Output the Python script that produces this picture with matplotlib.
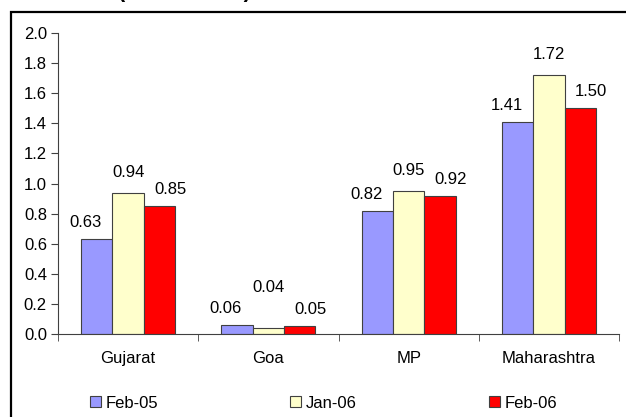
import numpy as np
import matplotlib
matplotlib.use("Agg")
import matplotlib.pyplot as plt
from matplotlib.patches import Rectangle

plt.rcParams['font.family'] = ['Liberation Sans', 'DejaVu Sans']

states = ["Gujarat", "Goa", "MP", "Maharashtra"]
series_names = ["Feb-05", "Jan-06", "Feb-06"]
feb05 = [0.63, 0.06, 0.82, 1.41]
jan06 = [0.94, 0.04, 0.95, 1.72]
feb06 = [0.85, 0.05, 0.92, 1.50]
colors = ["#9999FF", "#FFFFCC", "#FF0000"]

fs = 12
px = 72 / 100  # points per pixel at 100 dpi

fig = plt.figure(figsize=(6.26, 4.17), dpi=100)
ax = fig.add_axes([58 / 626, 83 / 417, 561 / 626, 301 / 417])

# outer chart frame
fig.patches.append(Rectangle((11 / 626, -0.1), 1.2, 0.1 + 1 - 12 / 417,
                             transform=fig.transFigure, fill=False,
                             edgecolor="black", linewidth=1.6))
fig.text(0.294, 1.008, "(Rs. in crore)", ha="center", va="baseline",
         fontsize=15.5, fontweight="bold")

# label offsets in pixels: outer labels pushed sideways, middle ones lifted
dx = [-11, 0, 11]
dy = [12, 16, 12]

x = np.arange(len(states))
width = 0.224
for i, (vals, name, col) in enumerate(zip([feb05, jan06, feb06], series_names, colors)):
    pos = x + (i - 1) * width
    ax.bar(pos, vals, width, color=col, edgecolor="#404040", linewidth=0.8, label=name)
    for j, (p, v) in enumerate(zip(pos, vals)):
        lift = dy[i] + (20 if (i == 1 and states[j] == "Goa") else 0)
        ax.annotate(f"{v:.2f}", (p, v), xytext=(dx[i] * px, lift * px),
                    textcoords="offset points", ha="center", va="baseline",
                    fontsize=fs)

ax.set_xlim(-0.5, len(states) - 0.5)
ax.set_ylim(0, 2.0)
yt = np.arange(0, 2.01, 0.2)
ax.set_yticks(yt)
ax.set_yticklabels([f"{t:.1f}" for t in yt], fontsize=fs)
ax.set_xticks(x)
ax.set_xticklabels(states, fontsize=fs)
ax.tick_params(axis="x", length=0, pad=12)
ax.set_xticks(np.arange(-0.5, len(states), 1.0), minor=True)
ax.tick_params(axis="x", which="minor", length=5, direction="out", color="#404040")
ax.tick_params(axis="y", length=5, direction="out", color="#404040", pad=3)
for s in ["top", "right"]:
    ax.spines[s].set_visible(False)
ax.spines["left"].set_color("#404040")
ax.spines["bottom"].set_color("#404040")

fig.legend(*ax.get_legend_handles_labels(), loc="center",
           bbox_to_anchor=(0.517, 1 - 403 / 417), ncol=3, frameon=False,
           fontsize=fs, handlelength=0.66, handleheight=0.66, handletextpad=0.3,
           columnspacing=7.9)

fig.savefig("out.png", dpi=100)
